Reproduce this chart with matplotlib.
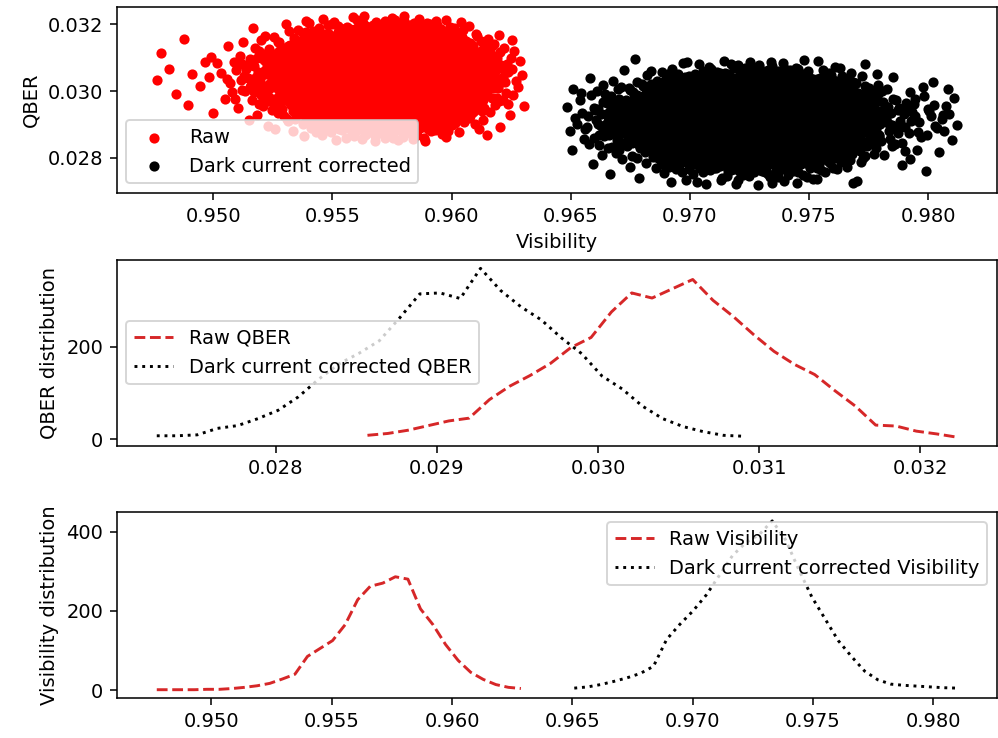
import numpy as np
import matplotlib
matplotlib.use('Agg')
import matplotlib.pyplot as plt

# histogram counts, read at evenly spaced bin centres between first and last centre
raw_qber_span = (0.028569, 0.032229)
raw_qber_counts = [9, 13, 20, 30, 40, 46, 86, 115, 138, 164,
                   198, 220, 275, 316, 305, 325, 345, 300, 265, 226,
                   190, 162, 140, 105, 72, 31, 29, 18, 12, 5]

dark_qber_span = (0.027261, 0.030904)
dark_qber_counts = [8, 8, 10, 24, 30, 45, 63, 92, 130, 163,
                    186, 213, 262, 314, 316, 304, 369, 321, 286, 258,
                    219, 185, 137, 109, 72, 45, 28, 17, 9, 7]

raw_vis_span = (0.947727, 0.962864)
raw_vis_counts = [1, 1, 1, 1, 2, 2, 4, 7, 11, 17,
                  28, 40, 85, 105, 125, 165, 228, 262, 270, 286,
                  280, 205, 165, 115, 75, 45, 27, 14, 7, 4]

dark_vis_span = (0.965083, 0.980992)
dark_vis_counts = [5, 8, 14, 22, 31, 42, 60, 128, 166, 200,
                   240, 290, 340, 372, 392, 427, 380, 305, 235, 180,
                   125, 85, 48, 26, 15, 12, 10, 8, 6, 5]

n_samples = 5000


def centres(span, counts):
    return np.linspace(span[0], span[1], len(counts))


def halton(start, n, base):
    seq = np.zeros(n)
    for i in range(n):
        f, r, k = 1.0, 0.0, start + i + 1
        while k > 0:
            f /= base
            r += f * (k % base)
            k //= base
        seq[i] = r
    return seq


def samples(span, counts, q):
    # spread points through each bin following the cumulative counts
    x = centres(span, counts)
    step = x[1] - x[0]
    edges = np.append(x - step / 2, x[-1] + step / 2)
    cdf = np.append(0, np.cumsum(counts)) / np.sum(counts)
    return np.interp(q, cdf, edges)


raw_vis = samples(raw_vis_span, raw_vis_counts, halton(0, n_samples, 2))
raw_qber = samples(raw_qber_span, raw_qber_counts, halton(0, n_samples, 3))
dark_vis = samples(dark_vis_span, dark_vis_counts, halton(n_samples, n_samples, 2))
dark_qber = samples(dark_qber_span, dark_qber_counts, halton(n_samples, n_samples, 3))

fig, (ax1, ax2, ax3) = plt.subplots(3, 1, figsize=(998 / 140, 738 / 140), dpi=140)
fig.subplots_adjust(left=0.117, right=0.999, bottom=0.054, top=0.990, hspace=0.36)

ax1.scatter(raw_vis, raw_qber, c='r', s=18, label='Raw')
ax1.scatter(dark_vis, dark_qber, c='k', s=18, label='Dark current corrected')
ax1.set_xlabel('Visibility')
ax1.set_ylabel('QBER')
ax1.legend(loc='lower left')

ax2.plot(centres(raw_qber_span, raw_qber_counts), raw_qber_counts, '--', color='C3', label='Raw QBER')
ax2.plot(centres(dark_qber_span, dark_qber_counts), dark_qber_counts, 'k:', label='Dark current corrected QBER')
ax2.set_ylabel('QBER distribution')
ax2.legend(loc='center left')

ax3.plot(centres(raw_vis_span, raw_vis_counts), raw_vis_counts, '--', color='C3', label='Raw Visibility')
ax3.plot(centres(dark_vis_span, dark_vis_counts), dark_vis_counts, 'k:', label='Dark current corrected Visibility')
ax3.set_ylabel('Visibility distribution')
ax3.legend(loc='upper right')

plt.savefig('out.png', dpi=140)
